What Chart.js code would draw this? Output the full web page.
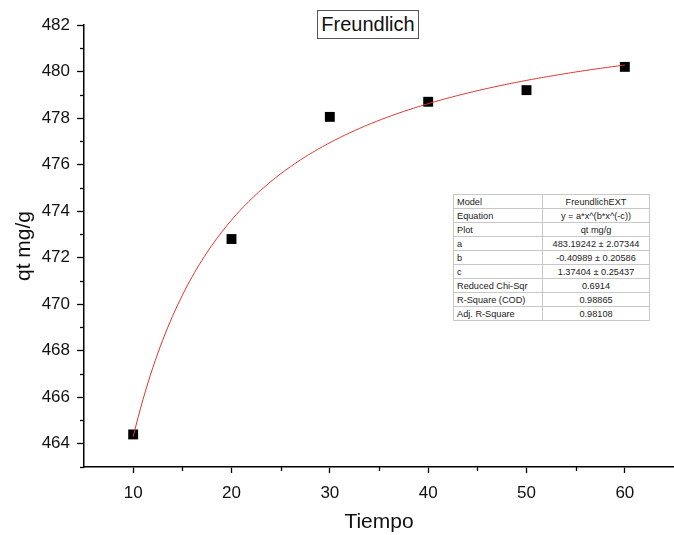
<!DOCTYPE html>
<html>
<head>
<meta charset="utf-8">
<script src="https://cdn.jsdelivr.net/npm/chart.js@4.4.1/dist/chart.umd.min.js"></script>
<style>
  html, body { margin: 0; padding: 0; background: #fff; }
  #wrap { position: relative; width: 674px; height: 535px; }
  #chart { position: absolute; left: 0; top: 0; }
  #title {
    position: absolute; left: 317px; top: 10px; width: 100px; height: 27px;
    border: 1px solid #555; box-sizing: content-box;
    font: 20px "Liberation Sans", Arial, sans-serif; color: #111;
    text-align: center; line-height: 27px; background: #fff;
  }
  #params {
    position: absolute; left: 453px; top: 194px; width: 197px;
    border-collapse: collapse; border: 1.5px solid #6a6a6a;
    font: 9.2px "Liberation Sans", Arial, sans-serif; color: #222; background: #fff;
  }
  #params td { border: 1px solid #c8c8c8; height: 13px; padding: 0 3px; white-space: nowrap; }
  #params td:first-child { width: 82px; text-align: left; }
  #params td:last-child { text-align: center; }
</style>
</head>
<body>
<div id="wrap">
  <canvas id="chart" width="674" height="535"></canvas>
  <div id="title">Freundlich</div>
  <table id="params"></table>
</div>
<script>
// Measured uptake over time
const tiempo = [10, 20, 30, 40, 50, 60];
const qt = [464.4, 472.8, 478.05, 478.7, 479.2, 480.2];

// FreundlichEXT fit: y = a*x^(b*x^(-c))
const fitA = 483.19242;
const fitB = -0.40989;
const fitC = 1.37404;

// Fit report rows
const reportLabels = ['Model', 'Equation', 'Plot', 'a', 'b', 'c', 'Reduced Chi-Sqr', 'R-Square (COD)', 'Adj. R-Square'];
const reportValues = ['FreundlichEXT', 'y = a*x^(b*x^(-c))', 'qt mg/g', '483.19242 ± 2.07344', '-0.40989 ± 0.20586', '1.37404 ± 0.25437', '0.6914', '0.98865', '0.98108'];

// Axis settings
const xRange = [5, 65];
const yRange = [463, 482];

const table = document.getElementById('params');
reportLabels.forEach((lab, i) => {
  const tr = document.createElement('tr');
  const td1 = document.createElement('td'); td1.textContent = lab;
  const td2 = document.createElement('td'); td2.textContent = reportValues[i];
  tr.appendChild(td1); tr.appendChild(td2); table.appendChild(tr);
});

// Fitted curve sampled across the measured span
const fitCurve = [];
for (let x = tiempo[0]; x <= tiempo[tiempo.length - 1] + 1e-9; x += 0.25) {
  fitCurve.push({ x: x, y: fitA * Math.pow(x, fitB * Math.pow(x, -fitC)) });
}

const FONT = '"Liberation Sans", Arial, sans-serif';

// Minor tick marks (shorter than the major ones)
const minorTicks = {
  id: 'minorTicks',
  afterDraw(chart) {
    const ctx = chart.ctx;
    const xs = chart.scales.x, ys = chart.scales.y;
    ctx.save();
    ctx.strokeStyle = '#000';
    ctx.lineWidth = 1.3;
    for (let v = 15; v < xRange[1]; v += 10) {
      const px = Math.round(xs.getPixelForValue(v)) + 0.5;
      ctx.beginPath(); ctx.moveTo(px, ys.bottom); ctx.lineTo(px, ys.bottom + 4); ctx.stroke();
    }
    for (let v = yRange[0]; v <= yRange[1]; v += 2) {
      const py = Math.round(ys.getPixelForValue(v)) + 0.5;
      ctx.beginPath(); ctx.moveTo(xs.left, py); ctx.lineTo(xs.left - 4, py); ctx.stroke();
    }
    ctx.restore();
  }
};

new Chart(document.getElementById('chart'), {
  type: 'scatter',
  data: {
    datasets: [
      {
        type: 'line',
        data: fitCurve,
        borderColor: '#dd3430',
        borderWidth: 1,
        pointRadius: 0,
        fill: false,
        tension: 0,
        order: 0
      },
      {
        data: tiempo.map((x, i) => ({ x: x, y: qt[i] })),
        pointStyle: 'rect',
        pointRadius: 7,
        pointHoverRadius: 7,
        backgroundColor: '#000',
        borderColor: '#000',
        borderWidth: 0,
        order: 1
      }
    ]
  },
  options: {
    responsive: false,
    animation: false,
    layout: { autoPadding: false, padding: { left: 12, top: 25, right: 0, bottom: 0 } },
    plugins: { legend: { display: false }, tooltip: { enabled: false } },
    scales: {
      x: {
        type: 'linear',
        min: xRange[0], max: xRange[1],
        afterFit(s) { s.height = 68; s.paddingRight = 0; },
        border: { display: true, color: '#000', width: 1.5 },
        grid: {
          drawOnChartArea: false, drawTicks: true, tickLength: 6, tickWidth: 1.3,
          tickColor: (c) => (c.tick && c.tick.value % 10 === 0 && c.tick.value > xRange[0]) ? '#000' : 'rgba(0,0,0,0)'
        },
        ticks: {
          stepSize: 5, autoSkip: false, maxRotation: 0, padding: 10,
          color: '#111', font: { family: FONT, size: 17 },
          callback: (v) => (v % 10 === 0 ? String(v) : '')
        },
        title: {
          display: true, text: 'Tiempo', color: '#111',
          font: { family: FONT, size: 21 }, padding: { top: 0, bottom: 0 }
        }
      },
      y: {
        type: 'linear',
        min: yRange[0], max: yRange[1],
        afterFit(s) { s.width = 72; s.paddingTop = 0; s.paddingBottom = 0; },
        border: { display: true, color: '#000', width: 1.5 },
        grid: {
          drawOnChartArea: false, drawTicks: true, tickLength: 7, tickWidth: 1.3,
          tickColor: (c) => (c.tick && c.tick.value % 2 === 0) ? '#000' : 'rgba(0,0,0,0)'
        },
        ticks: {
          stepSize: 1, autoSkip: false, padding: 7,
          color: '#111', font: { family: FONT, size: 17 },
          callback: (v) => (v % 2 === 0 ? String(v) : '')
        },
        title: {
          display: true, text: 'qt mg/g', color: '#111',
          font: { family: FONT, size: 21 }, padding: { top: 0, bottom: 0 }
        }
      }
    }
  },
  plugins: [minorTicks]
});
</script>
</body>
</html>
